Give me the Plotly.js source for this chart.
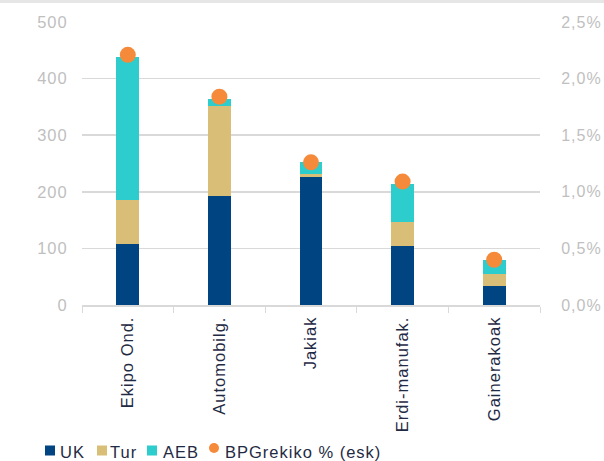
<!DOCTYPE html>
<html>
<head>
<meta charset="utf-8">
<script src="https://cdn.plot.ly/plotly-3.0.1.min.js"></script>
<style>
html,body{margin:0;padding:0;background:#fff;}
#topband{position:absolute;left:0;top:0;width:604px;height:3px;background:#e6e6e6;z-index:5;}
#chart{width:604px;height:461px;}
svg text{letter-spacing:1px;}
</style>
</head>
<body>
<div id="topband"></div>
<div id="chart"></div>
<script>
var categories = ["Ekipo Ond.", "Automobilg.", "Jakiak", "Erdi-manufak.", "Gainerakoak"];
var ukValues  = [108, 192, 226, 104, 33];
var turValues = [77, 159, 5, 42, 22];
var aebValues = [253, 13, 21, 67, 24];
var bpgPct    = [2.21, 1.84, 1.26, 1.09, 0.40];
var seriesNames = ["UK", "Tur", "AEB", "BPGrekiko % (esk)"];
var leftTicks  = [0, 100, 200, 300, 400, 500];
var rightTicks = [0, 0.5, 1.0, 1.5, 2.0, 2.5];
var rightTickLabels = ["0,0%", "0,5%", "1,0%", "1,5%", "2,0%", "2,5%"];

var textColor = '#1F2A44';
var gridColor = '#D9D9D9';
var tickGray  = '#BFBFBF';
var fontSize  = 16.5;
var colors = ['#004481', '#D8BE77', '#2DCDCD', '#F58A3B'];

var traces = [
  {type:'bar', name:seriesNames[0], x:categories, y:ukValues, marker:{color:colors[0]}},
  {type:'bar', name:seriesNames[1], x:categories, y:turValues, marker:{color:colors[1]}},
  {type:'bar', name:seriesNames[2], x:categories, y:aebValues, marker:{color:colors[2]}},
  {type:'scatter', mode:'markers', name:seriesNames[3], x:categories, y:bpgPct, yaxis:'y2',
   marker:{color:colors[3], size:16}}
];

// Legend drawn below the plot (layout positions in pixels, converted to paper units)
var M = {l:82, r:64, t:22, b:156};
var W = 604, H = 461;
var pw = W - M.l - M.r, ph = H - M.t - M.b;
function px(x){ return (x - M.l) / pw; }
function py(y){ return (H - M.b - y) / ph; }
var legSymbolX = [45, 97, 147, 209];
var legTextX   = [59, 109, 162, 224];
var legY = 450.5, sq = 10;
var shapes = [], annotations = [];
for (var i = 0; i < seriesNames.length; i++) {
  var isDot = (i === 3);
  var cy = isDot ? 448 : legY;
  shapes.push({type: isDot ? 'circle' : 'rect', xref:'paper', yref:'paper',
    x0:px(legSymbolX[i]), x1:px(legSymbolX[i] + sq),
    y0:py(cy + sq/2), y1:py(cy - sq/2),
    fillcolor:colors[i], line:{width:0}});
  annotations.push({xref:'paper', yref:'paper', x:px(legTextX[i]), y:py(legY + 1), xanchor:'left', yanchor:'middle',
    text:seriesNames[i], showarrow:false, font:{size:fontSize, color:textColor}, borderpad:0});
}

var layout = {
  width:W, height:H,
  margin:M,
  paper_bgcolor:'#fff', plot_bgcolor:'#fff',
  barmode:'stack', bargap:0.75,
  font:{family:'"Liberation Sans", Arial, sans-serif', size:fontSize, color:textColor},
  showlegend:false,
  shapes:shapes, annotations:annotations,
  xaxis:{type:'category', tickson:'boundaries', ticks:'outside', ticklen:6, tickcolor:gridColor,
         showline:true, linecolor:gridColor, linewidth:2, showgrid:false,
         tickangle:-90, ticklabelstandoff:3, automargin:false,
         tickfont:{size:fontSize, color:textColor}},
  yaxis:{range:[0,500], tickmode:'array', tickvals:leftTicks, ticks:'outside', ticklen:10, tickcolor:'rgba(0,0,0,0)',
         showgrid:true, gridcolor:gridColor, gridwidth:1.5, zeroline:false, showline:false, automargin:false,
         tickfont:{size:fontSize, color:tickGray}},
  yaxis2:{range:[0,2.5], overlaying:'y', side:'right', tickmode:'array', tickvals:rightTicks, ticktext:rightTickLabels,
          ticks:'outside', ticklen:17, tickcolor:'rgba(0,0,0,0)', showgrid:false, zeroline:false, showline:false,
          automargin:false, tickfont:{size:16, color:tickGray}}
};

Plotly.newPlot('chart', traces, layout, {displayModeBar:false, staticPlot:true});
</script>
</body>
</html>
